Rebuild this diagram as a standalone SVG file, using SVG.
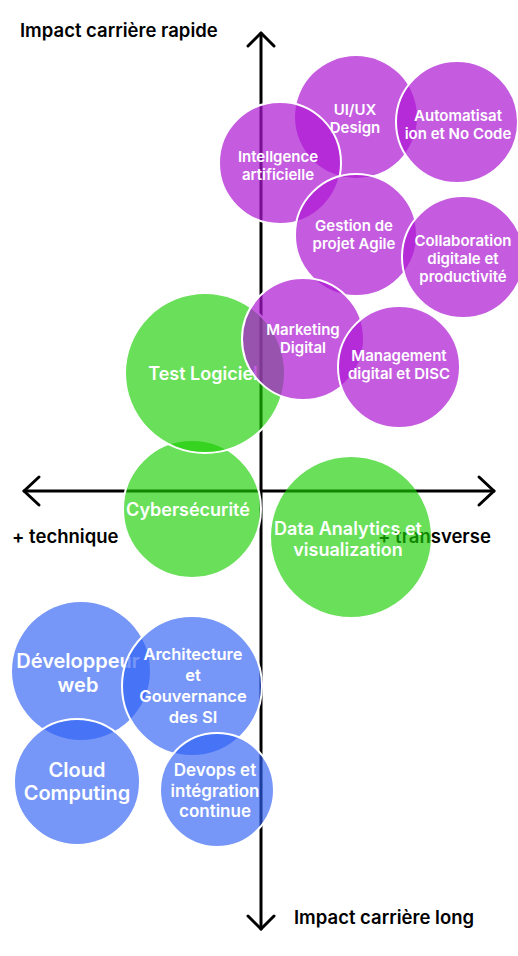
<svg xmlns="http://www.w3.org/2000/svg" width="518" height="956" viewBox="0 0 518 956">
<style>
.ax{stroke:#000;stroke-width:3;fill:none;stroke-linecap:round;stroke-linejoin:round}
.lbl{font-family:Inter,"Noto Sans",sans-serif;font-weight:600;font-size:18.5px;fill:#000}
.p{fill:#AD17D3;fill-opacity:0.7}
.g{fill:#1ACE01;fill-opacity:0.65}
.b{fill:#2E5FF4;fill-opacity:0.65}
.w{stroke:#fff;stroke-width:2}
.t{font-family:Inter,"Noto Sans",sans-serif;font-weight:600;fill:#fff;text-anchor:middle}
.s{font-size:15px}
.m{font-size:16.5px}
.d{font-size:17px}
.l{font-size:18px}
.x{font-size:20px}
</style>
<rect width="518" height="956" fill="#fff"/>
<g id="axes">
<line class="ax" x1="261" y1="33" x2="261" y2="929"/>
<polyline class="ax" points="248,46 261,33 274,46"/>
<polyline class="ax" points="248,916 261,929 274,916"/>
<line class="ax" x1="24" y1="491" x2="494" y2="491"/>
<polyline class="ax" points="39,477 24,491 39,505"/>
<polyline class="ax" points="479,477 494,491 479,505"/>
</g>
<g id="labels">
<text class="lbl" x="20" y="37">Impact carrière rapide</text>
<text class="lbl" x="294" y="924">Impact carrière long</text>
<text class="lbl" x="12" y="543">+ technique</text>
<text class="lbl" x="378" y="543">+ transverse</text>
</g>
<g id="connectors"></g>
<g id="n-uiux"><circle class="p" cx="356" cy="117" r="61"/><text class="t s" x="355" y="114.5">UI/UX</text><text class="t s" x="355" y="132.5">Design</text></g>
<g id="n-auto"><circle class="p w" cx="457" cy="122" r="61"/><text class="t s" x="458" y="120.5">Automatisat</text><text class="t s" x="458" y="138.5">ion et No Code</text></g>
<g id="n-ia"><circle class="p w" cx="280" cy="163" r="61"/><text class="t s" x="278" y="161.5">Intellgence</text><text class="t s" x="278" y="179.5">artificielle</text></g>
<g id="n-agile"><circle class="p w" cx="356" cy="235" r="61"/><text class="t s" x="354" y="231">Gestion de</text><text class="t s" x="354" y="249">projet Agile</text></g>
<g id="n-collab"><circle class="p w" cx="463" cy="257" r="61"/><text class="t s" x="463" y="245.5">Collaboration</text><text class="t s" x="463" y="263.5">digitale et</text><text class="t s" x="463" y="281.5">productivité</text></g>
<g id="n-cyber"><circle class="g w" cx="192" cy="509" r="69"/><text class="t l" x="188" y="515.5">Cybersécurité</text></g>
<g id="n-test"><circle class="g w" cx="205" cy="373" r="80"/><text class="t l" x="203" y="379.5">Test Logiciel</text></g>
<g id="n-marketing"><circle class="p w" cx="303" cy="339" r="61"/><text class="t s" x="303" y="334.5">Marketing</text><text class="t s" x="303" y="352.5">Digital</text></g>
<g id="n-mgmt"><circle class="p w" cx="399" cy="367" r="61"/><text class="t s" x="399" y="360.5">Management</text><text class="t s" x="399" y="378.5">digital et DISC</text></g>
<g id="n-data"><circle class="g" cx="351" cy="537" r="80"/><text class="t l" x="348" y="534.5">Data Analytics et</text><text class="t l" x="348" y="555.5">visualization</text></g>
<g id="n-dev"><circle class="b" cx="81" cy="671" r="69"/><text class="t x" x="78" y="667.5">Développeur</text><text class="t x" x="78" y="691.5">web</text></g>
<g id="n-archi"><circle class="b w" cx="192" cy="686" r="70"/><text class="t m" x="193" y="660">Architecture</text><text class="t m" x="193" y="681">et</text><text class="t m" x="193" y="702">Gouvernance</text><text class="t m" x="193" y="723">des SI</text></g>
<g id="n-cloud"><circle class="b w" cx="77" cy="782" r="63"/><text class="t x" x="77" y="777">Cloud</text><text class="t x" x="77" y="800">Computing</text></g>
<g id="n-devops"><circle class="b w" cx="217" cy="790" r="57"/><text class="t d" x="215" y="776">Devops et</text><text class="t d" x="215" y="797">intégration</text><text class="t d" x="215" y="817">continue</text></g>
</svg>
